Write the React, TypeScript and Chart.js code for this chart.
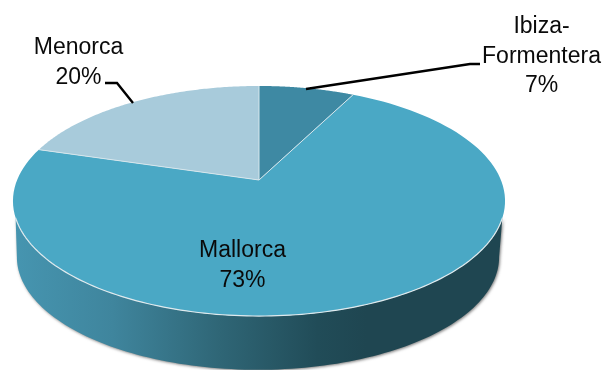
import React, { useEffect, useRef } from "react";
import { Chart, registerables } from "chart.js";

Chart.register(...registerables);

const categories = ["Ibiza-Formentera", "Mallorca", "Menorca"];
const shares = [7, 73, 20];
const sliceColors = ["#3e89a3", "#4aa8c5", "#a8cbdb"];
const labelLines = [["Ibiza-", "Formentera", "7%"], ["Mallorca", "73%"], ["Menorca", "20%"]];

// Projection of the flat pie onto the tilted plane
const APEX_X = 259;
const APEX_Y = 180;
const TILT = 0.1826;
const K = 241.9;
const B = 111.2;
const DROP_X = -1;
const DROP_Y = 56.5;
const DROP_SCALE = 0.98;
const WARP = (2.2 * Math.PI) / 180;

const FONT = '23px "Liberation Sans", Arial, sans-serif';
const labelAnchors = [
  { x: 541.5, y: 33 },
  { x: 242.5, y: 257 },
  { x: 78.5, y: 54 },
];
const LINE_GAP = 29.7;
const leaders = [
  [[306, 89], [470, 64], [480, 64]],
  [[105, 83], [117, 83], [133, 103]],
];

function project(a: number, scale = 1, dx = 0, dy = 0): [number, number] {
  const u = Math.cos(a);
  const v = Math.sin(a);
  const w = 1 - TILT * v;
  return [APEX_X + dx + (scale * K * u) / w, APEX_Y + dy + (scale * B * v) / w];
}

// Slight angular correction of the perspective on the far half of the pie
function warp(a: number): number {
  const theta = a + Math.PI / 2;
  return a + WARP * Math.sin(2 * theta) * (Math.sin(a) < 0 ? 1 : 0);
}

const tiltedPie = {
  id: "tiltedPie",
  beforeDatasetDraw(chart: any) {
    const ctx: CanvasRenderingContext2D = chart.ctx;
    const arcs = chart.getDatasetMeta(0).data;
    const N = 120;

    // side wall
    const a0 = (18.7 * Math.PI) / 180;
    const a1 = (161.3 * Math.PI) / 180;
    ctx.save();
    ctx.beginPath();
    for (let i = 0; i <= N; i++) {
      const p = project(a0 + ((a1 - a0) * i) / N);
      if (i === 0) ctx.moveTo(p[0], p[1]);
      else ctx.lineTo(p[0], p[1]);
    }
    const b0 = (10.5 * Math.PI) / 180;
    const b1 = (169.5 * Math.PI) / 180;
    for (let i = N; i >= 0; i--) {
      const p = project(b0 + ((b1 - b0) * i) / N, DROP_SCALE, DROP_X, DROP_Y);
      ctx.lineTo(p[0], p[1]);
    }
    ctx.closePath();
    const g = ctx.createLinearGradient(15, 0, 503, 0);
    g.addColorStop(0, "#4695b0");
    g.addColorStop(0.2, "#3f859d");
    g.addColorStop(0.42, "#2f6676");
    g.addColorStop(0.62, "#214c58");
    g.addColorStop(0.72, "#1f4651");
    g.addColorStop(1, "#1f4651");
    ctx.shadowColor = "rgba(60,60,60,0.65)";
    ctx.shadowBlur = 3;
    ctx.shadowOffsetX = 1;
    ctx.shadowOffsetY = 1;
    ctx.fillStyle = g;
    ctx.fill();
    ctx.restore();

    // slices, angles supplied by the library's arc elements
    ctx.save();
    ctx.lineJoin = "round";
    arcs.forEach((arc: any) => {
      const { startAngle, endAngle } = arc.getProps(["startAngle", "endAngle"], true);
      ctx.beginPath();
      ctx.moveTo(APEX_X, APEX_Y);
      for (let i = 0; i <= N; i++) {
        const p = project(warp(startAngle + ((endAngle - startAngle) * i) / N));
        ctx.lineTo(p[0], p[1]);
      }
      ctx.closePath();
      ctx.fillStyle = arc.options.backgroundColor;
      ctx.fill();
    });
    // light separators
    ctx.strokeStyle = "#d6e6ec";
    ctx.lineWidth = 1;
    arcs.forEach((arc: any) => {
      const { startAngle } = arc.getProps(["startAngle"], true);
      const p = project(warp(startAngle));
      ctx.beginPath();
      ctx.moveTo(APEX_X, APEX_Y);
      ctx.lineTo(p[0], p[1]);
      ctx.stroke();
    });
    // highlight on the front rim
    ctx.strokeStyle = "#dfeaee";
    ctx.lineWidth = 1.2;
    ctx.beginPath();
    for (let i = 0; i <= N; i++) {
      const p = project(a0 + ((a1 - a0) * i) / N);
      if (i === 0) ctx.moveTo(p[0], p[1]);
      else ctx.lineTo(p[0], p[1]);
    }
    ctx.stroke();
    ctx.restore();
    return false;
  },
  afterDraw(chart: any) {
    const ctx: CanvasRenderingContext2D = chart.ctx;
    ctx.save();
    ctx.strokeStyle = "#000";
    ctx.lineWidth = 2.4;
    leaders.forEach((pts) => {
      ctx.beginPath();
      pts.forEach((p, i) => (i === 0 ? ctx.moveTo(p[0], p[1]) : ctx.lineTo(p[0], p[1])));
      ctx.stroke();
    });
    ctx.fillStyle = "#0a0a0a";
    ctx.font = FONT;
    ctx.textAlign = "center";
    ctx.textBaseline = "alphabetic";
    labelLines.forEach((lines, i) => {
      lines.forEach((t, j) => ctx.fillText(t, labelAnchors[i].x, labelAnchors[i].y + j * LINE_GAP));
    });
    ctx.restore();
  },
};

export default function App() {
  const ref = useRef<HTMLCanvasElement>(null);
  useEffect(() => {
    const chart = new Chart(ref.current!, {
      type: "pie",
      data: {
        labels: categories,
        datasets: [{ data: shares, backgroundColor: sliceColors, borderWidth: 0 }],
      },
      options: {
        animation: false,
        responsive: false,
        plugins: { legend: { display: false }, tooltip: { enabled: false } },
      },
      plugins: [tiltedPie],
    } as any);
    return () => chart.destroy();
  }, []);
  return (
    <div style={{ position: "absolute", left: 0, top: 0, width: 604, height: 370, background: "#fff" }}>
      <canvas ref={ref} width={604} height={370} style={{ display: "block" }} />
    </div>
  );
}
